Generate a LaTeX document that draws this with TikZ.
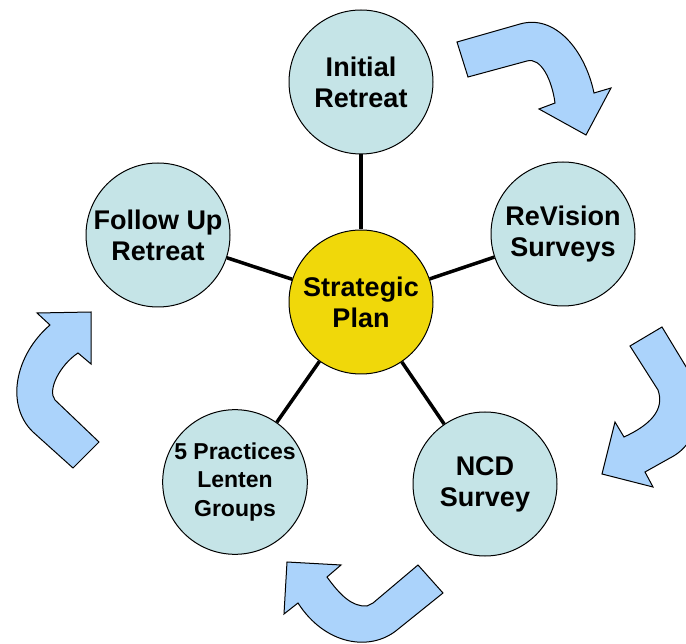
\documentclass[tikz,border=0pt]{standalone}
\usepackage{fontspec}
\setmainfont{Liberation Sans}
\definecolor{bubble}{RGB}{197,228,231}
\definecolor{core}{RGB}{240,216,10}
\definecolor{flow}{RGB}{171,211,251}
\tikzset{
  stage/.style={circle, draw=black, line width=1pt, fill=bubble, minimum size=144pt,
    inner sep=0pt, align=center, font=\bfseries\fontsize{27}{31}\selectfont},
  hub/.style={stage, fill=core},
  spoke/.style={line width=3.5pt, black},
  cyclearrow/.style={fill=flow, draw=black, line width=1pt, line join=miter}
}
\begin{document}
\begin{tikzpicture}[x=1pt,y=-1pt]
\useasboundingbox (0,0) rectangle (686,644);
\clip (0,0) rectangle (686,644);

% curved arrows between the stages
\draw[cyclearrow] (457,42) -- (520,24) .. controls (555,14) and (585,50) .. (594,93)
  -- (611,88) -- (586,135) -- (539,109) -- (555,103)
  .. controls (552,80) and (541,57) .. (527,61) -- (468,77) -- cycle;
\draw[cyclearrow] (630,346) -- (662,327) -- (688,370)
  .. controls (705,400) and (702,442) .. (670,458) -- (645,472)
  -- (653,487) -- (602,474) -- (615,422) -- (624,437)
  .. controls (650,425) and (665,410) .. (658,390) -- cycle;
\draw[cyclearrow] (287,562) -- (341,565) -- (327,577)
  .. controls (340,595) and (352,607) .. (367,606) -- (373,603)
  -- (418,565) -- (443,593) -- (397,630)
  .. controls (370,652) and (325,645) .. (298,603) -- (284,614) -- cycle;
\draw[cyclearrow] (91,312) -- (37,313) -- (50,325)
  .. controls (15,355) and (5,405) .. (33,432) -- (73,468) -- (99,442) -- (55,400)
  .. controls (47,390) and (60,365) .. (78,353) -- (91,364) -- cycle;

% stages around the plan
\node[hub]   (sp) at (361,302) {Strategic\\Plan};
\node[stage] (ir) at (361,82)  {Initial\\Retreat};
\node[stage] (rs) at (563,234) {ReVision\\Surveys};
\node[stage] (ncd) at (485,484) {NCD\\Survey};
\node[stage, font=\bfseries\fontsize{23}{28.5}\selectfont] (fp) at (235,482) {5 Practices\\Lenten\\Groups};
\node[stage] (fu) at (158,235) {Follow Up\\Retreat};

% spokes
\foreach \n in {ir,rs,ncd,fp,fu}
  \draw[spoke] (sp) -- (\n);
\end{tikzpicture}
\end{document}
